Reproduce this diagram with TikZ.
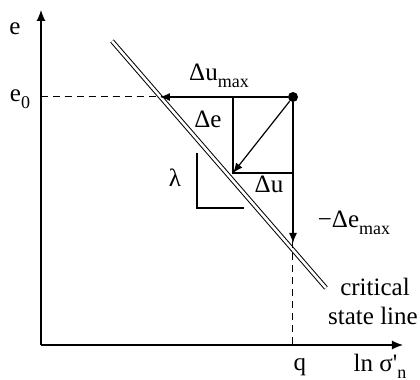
\documentclass[tikz,border=0pt]{standalone}
\usepackage{fontspec}
\setmainfont{Liberation Serif}
\usetikzlibrary{arrows.meta, positioning}
\newcommand{\lowtxt}[1]{\raisebox{-0.55ex}{\fontsize{9}{9}\selectfont #1}}

\begin{document}
\begin{tikzpicture}[x=0.5pt, y=-0.5pt,
    every node/.style={font=\fontsize{12.5}{15}\selectfont, inner sep=0pt},
    axis/.style={-{Latex[length=5.5pt, width=4.5pt]}, line width=0.6pt},
    arrow/.style={-{Latex[length=5pt, width=4pt]}, line width=0.6pt},
    guide/.style={dash pattern=on 3.5pt off 2.5pt, line width=0.5pt},
    leg/.style={line width=0.75pt},
    csl/.style={double, double distance=1.3pt, line width=0.5pt},
    lbl/.style={anchor=base}
]
\useasboundingbox (0,0) rectangle (420,380);

% axes
\coordinate (origin) at (41,345);
\coordinate (ytip) at (41,10);
\coordinate (xtip) at (403,345);
\draw[axis] (origin) -- (ytip);
\draw[axis] (origin) -- (xtip);

% critical state line
\coordinate (cslA) at (112,41);
\coordinate (cslB) at (326,288);
\draw[csl] (cslA) -- (cslB);

% initial state and guides
\node[circle, fill, minimum size=5pt] (state) at (293,97) {};
\coordinate (e0level) at (41,97);
\coordinate (qfoot) at (293,345);
\draw[guide] (e0level) -- (state.center);
\draw[guide] (state.center) -- (qfoot);

% paths to the line
\coordinate (umaxtip) at (160,97);
\coordinate (emaxtip) at (293,243);
\coordinate (corner) at (233,173);
\coordinate (etop) at (233,97);
\coordinate (uend) at (293,173);
\draw[arrow] (state) -- (umaxtip);
\draw[arrow] (state) -- (emaxtip);
\draw[arrow] (state) -- (corner);
\draw[leg] (etop) -- (corner) -- (uend);

% slope legs
\coordinate (lamtop) at (197,153);
\coordinate (lamcorner) at (197,208);
\coordinate (lamend) at (244,208);
\draw[leg] (lamtop) -- (lamcorner) -- (lamend);

% labels
\node[lbl] (elabel) at (15,35) {e};
\node[lbl] (e0label) at (20,102) {e\lowtxt{0}};
\node[lbl] (dumax) at (219,81) {Δu\lowtxt{max}};
\node[lbl] (de) at (208,128) {Δe};
\node[lbl] (du) at (269,193) {Δu};
\node[lbl] (lambda) at (175,187) {λ};
\node[lbl] (demax) at (354,228) {−Δe\lowtxt{max}};
\node[lbl] (critical) at (375,296) {critical};
\node[lbl] (stateline) at (373,325) {state line};
\node[lbl] (qlabel) at (300,371) {q};
\node[lbl] (xlabel) at (380,372) {ln σ\textquotesingle\lowtxt{n}};
\end{tikzpicture}
\end{document}
